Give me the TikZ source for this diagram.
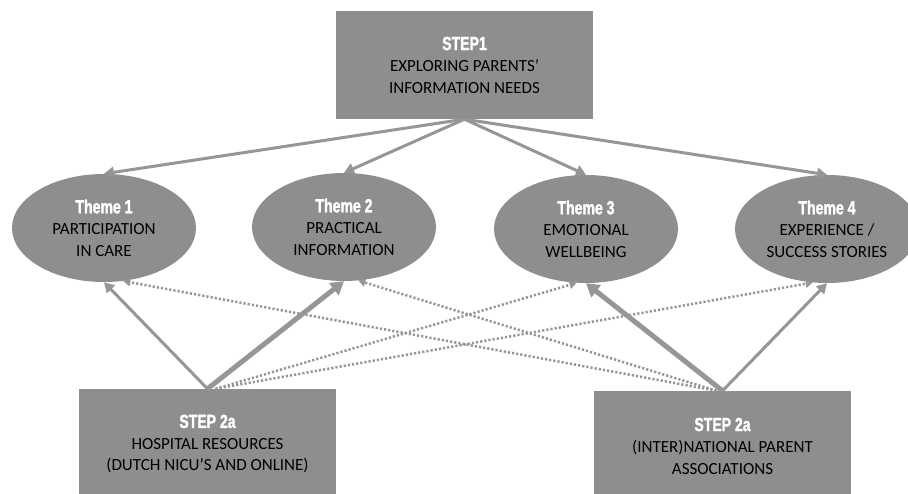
\documentclass[tikz,border=0pt]{standalone}
\usepackage{fontspec}
\setmainfont{Carlito}
\newfontfamily\headfont[FakeStretch=0.74,FakeBold=1.6]{Liberation Sans}
\usetikzlibrary{arrows.meta,shapes.geometric}

\definecolor{boxgray}{RGB}{142,142,142}
\definecolor{linkgray}{RGB}{150,150,150}

\newcommand{\hd}[1]{{\headfont\bfseries\fontsize{19}{22}\selectfont\color{white}#1}}

\tikzset{
  bodytext/.style={font=\fontsize{17}{21.5}\selectfont, text=black, align=center},
  stepbox/.style={rectangle, fill=boxgray, draw=none, inner sep=0pt, bodytext},
  themebox/.style={ellipse, fill=boxgray, draw=none, inner sep=0pt,
    minimum width=184pt, minimum height=108pt, bodytext},
  link/.style={draw=linkgray, line width=3pt,
    -{Triangle[length=10pt,width=11pt]}},
  heavylink/.style={draw=linkgray, line width=5pt,
    -{Triangle[length=13pt,width=15pt]}},
  dotlink/.style={draw=linkgray, line width=2.5pt, dash pattern=on 2.2pt off 2pt,
    -{Triangle[length=7pt,width=8pt]}},
}

\begin{document}
\begin{tikzpicture}[x=1pt,y=-1pt]
  \useasboundingbox (0,0) rectangle (908,494);
  \clip (0,0) rectangle (908,494);

  % step 1 at the top
  \node[stepbox, minimum width=257pt, minimum height=108pt] (top) at (464.5,65)
    {\hd{STEP1}\\EXPLORING PARENTS'\\INFORMATION NEEDS};

  % the four themes
  \node[themebox] (e1) at (104,228) {\hd{Theme 1}\\PARTICIPATION\\IN CARE};
  \node[themebox] (e2) at (344,227) {\hd{Theme 2}\\PRACTICAL\\INFORMATION};
  \node[themebox] (e3) at (586,229) {\hd{Theme 3}\\EMOTIONAL\\WELLBEING};
  \node[themebox] (e4) at (827,229) {\hd{Theme 4}\\EXPERIENCE /\\SUCCESS STORIES};

  % the two sources of step 2a
  \node[stepbox, minimum width=257pt, minimum height=110pt] (bl) at (207.5,444)
    {\hd{STEP 2a}\\HOSPITAL RESOURCES\\(DUTCH NICU'S AND ONLINE)};
  \node[stepbox, minimum width=257pt, minimum height=110pt] (br) at (722.5,446)
    {\hd{STEP 2a}\\(INTER)NATIONAL PARENT\\ASSOCIATIONS};

  % step 1 to each theme
  \draw[link] (top.south) -- (e1.north);
  \draw[link] (top.south) -- (e2.north);
  \draw[link] (top.south) -- (e3.north);
  \draw[link] (top.south) -- (e4.north);

  % weaker (dotted) links
  \draw[dotlink] ([xshift=8pt]bl.north) -- (e3.260);
  \draw[dotlink] ([xshift=8pt]bl.north) -- (e4.255);
  \draw[dotlink] ([xshift=-6pt]br.north) -- (e1.290);
  \draw[dotlink] ([xshift=-6pt]br.north) -- (e2.285);

  % hospital resources
  \draw[link] (bl.north) -- (e1.south);
  \draw[heavylink] (bl.north) -- (e2.south);

  % parent associations
  \draw[heavylink] (br.north) -- (e3.south);
  \draw[link] (br.north) -- (e4.south);
\end{tikzpicture}
\end{document}
